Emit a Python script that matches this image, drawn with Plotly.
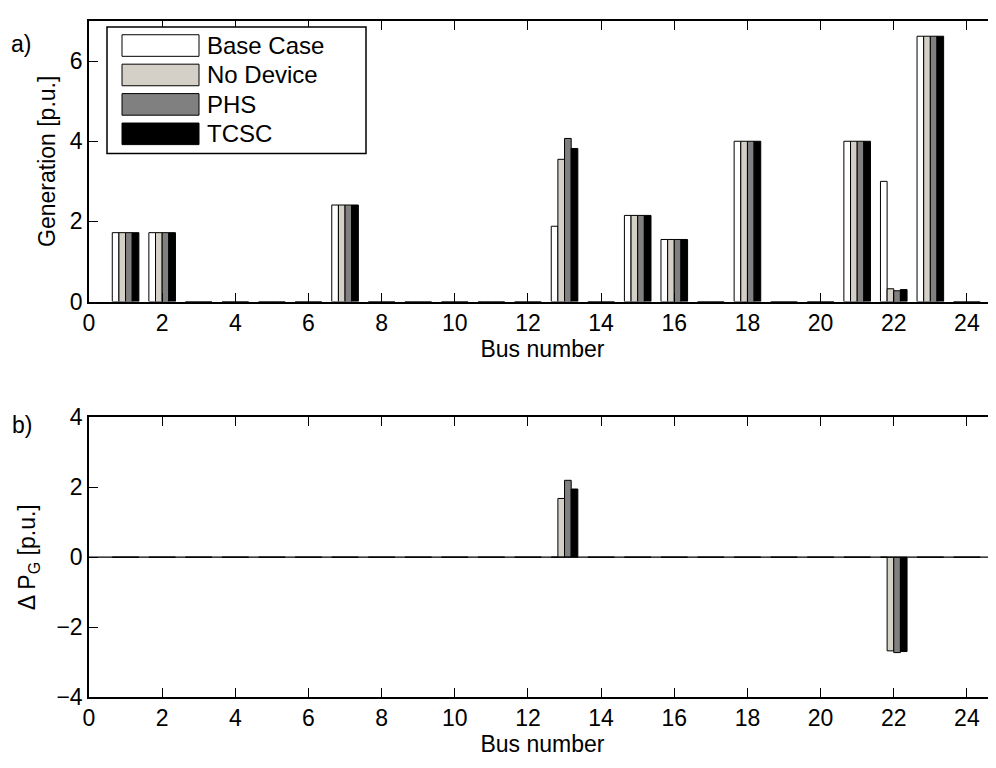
import plotly.graph_objects as go

# ---------------- data ----------------
buses = list(range(1, 25))
series_names = ["Base Case", "No Device", "PHS", "TCSC"]
series_colors = ["#ffffff", "#d4d0c8", "#808080", "#000000"]

#            1     2    3  4  5  6  7     8  9  10 11 12 13    14 15    16    17 18   19 20 21   22    23    24
gen_base  = [1.72, 1.72, 0, 0, 0, 0, 2.41, 0, 0, 0, 0, 0, 1.88, 0, 2.15, 1.55, 0, 4.0, 0, 0, 4.0, 3.00, 6.62, 0]
gen_nodev = [1.72, 1.72, 0, 0, 0, 0, 2.41, 0, 0, 0, 0, 0, 3.55, 0, 2.15, 1.55, 0, 4.0, 0, 0, 4.0, 0.32, 6.62, 0]
gen_phs   = [1.72, 1.72, 0, 0, 0, 0, 2.41, 0, 0, 0, 0, 0, 4.07, 0, 2.15, 1.55, 0, 4.0, 0, 0, 4.0, 0.27, 6.62, 0]
gen_tcsc  = [1.72, 1.72, 0, 0, 0, 0, 2.41, 0, 0, 0, 0, 0, 3.82, 0, 2.15, 1.55, 0, 4.0, 0, 0, 4.0, 0.30, 6.62, 0]

dpg_base  = [0] * 24
dpg_nodev = [0, 0, 0, 0, 0, 0, 0, 0, 0, 0, 0, 0, 1.68, 0, 0, 0, 0, 0, 0, 0, 0, -2.68, 0, 0]
dpg_phs   = [0, 0, 0, 0, 0, 0, 0, 0, 0, 0, 0, 0, 2.20, 0, 0, 0, 0, 0, 0, 0, 0, -2.73, 0, 0]
dpg_tcsc  = [0, 0, 0, 0, 0, 0, 0, 0, 0, 0, 0, 0, 1.95, 0, 0, 0, 0, 0, 0, 0, 0, -2.70, 0, 0]

x_ticks = list(range(0, 25, 2))
y1_ticks = [0, 2, 4, 6]
y2_ticks = [-4, -2, 0, 2, 4]

# ---------------- layout geometry (pixels, screen coords) ----------------
OFF = 8                      # default page body margin
SW, SH = 996, 768            # screen size
W, H = SW - OFF, SH - OFF    # figure size
L, R, T, B = 89 - OFF, 0, 8 - OFF, SH - 697
PW, PH = W - L - R, H - T - B


def px_x(p):
    return (p - OFF - L) / PW


def px_y(p):
    return (H - B - (p - OFF)) / PH


FONT = "Liberation Sans, Arial, Helvetica, sans-serif"
FS = 23

fig = go.Figure()

top_series = [gen_base, gen_nodev, gen_phs, gen_tcsc]
bot_series = [dpg_base, dpg_nodev, dpg_phs, dpg_tcsc]

for name, col, vals in zip(series_names, series_colors, top_series):
    fig.add_trace(go.Bar(x=buses, y=vals, name=name, xaxis="x", yaxis="y",
                         marker=dict(color=col, line=dict(color="#000000", width=1)),
                         showlegend=False, offsetgroup=name))
for name, col, vals in zip(series_names, series_colors, bot_series):
    fig.add_trace(go.Bar(x=buses, y=vals, name=name, xaxis="x2", yaxis="y2",
                         marker=dict(color=col, line=dict(color="#000000", width=1)),
                         showlegend=False, offsetgroup=name))

axis_common = dict(showline=True, linecolor="black", linewidth=1.5,
                   ticks="inside", ticklen=9, tickwidth=1, tickcolor="black",
                   showgrid=False, zeroline=False,
                   tickfont=dict(family=FONT, size=FS, color="black"))

xr = [0, (SW - 89) / 36.58]

fig.update_layout(
    width=W, height=H,
    margin=dict(l=L, r=R, t=T, b=B),
    paper_bgcolor="white", plot_bgcolor="white",
    barmode="group", bargap=0.273, bargroupgap=0,
    font=dict(family=FONT, size=FS, color="black"),
    xaxis=dict(domain=[0, 1], anchor="y", range=xr, tickvals=x_ticks, mirror="ticks",
               title=dict(text="Bus number", standoff=4, font=dict(family=FONT, size=FS)),
               **axis_common),
    yaxis=dict(domain=[px_y(294), 1], anchor="x", range=[0, 7], tickvals=y1_ticks,
               title=dict(text="Generation [p.u.]", standoff=8, font=dict(family=FONT, size=FS)),
               **axis_common),
    xaxis2=dict(domain=[0, 1], anchor="y2", range=xr, tickvals=x_ticks, mirror="ticks",
                title=dict(text="Bus number", standoff=4, font=dict(family=FONT, size=FS)),
                **axis_common),
    yaxis2=dict(domain=[0, px_y(412)], anchor="x2", range=[-4, 4], tickvals=y2_ticks,
                title=dict(text="\u0394 P<sub>G</sub> [p.u.]", standoff=14, font=dict(family=FONT, size=FS)),
                **axis_common),
)

# zero line in lower panel
fig.add_shape(type="line", xref="x2", yref="y2", x0=xr[0], x1=xr[1], y0=0, y1=0,
              line=dict(color="black", width=1.2), layer="above")

# legend box (manual, MATLAB-style wide swatches)
fig.add_shape(type="rect", xref="paper", yref="paper",
              x0=px_x(107), x1=px_x(366), y0=px_y(143), y1=px_y(14),
              line=dict(color="black", width=1.5), fillcolor="white", layer="above")
for i, (name, col) in enumerate(zip(series_names, series_colors)):
    y0 = 22 + 30 * i
    fig.add_shape(type="rect", xref="paper", yref="paper",
                  x0=px_x(122), x1=px_x(199), y0=px_y(y0 + 22), y1=px_y(y0),
                  line=dict(color="black", width=1), fillcolor=col, layer="above")
    fig.add_annotation(xref="paper", yref="paper", x=px_x(205), y=px_y(y0 + 11),
                       text=name, showarrow=False, xanchor="left", yanchor="middle",
                       font=dict(family=FONT, size=FS + 1, color="black"))

# panel labels
fig.add_annotation(xref="paper", yref="paper", x=px_x(9), y=px_y(31), text="a)",
                   showarrow=False, xanchor="left", yanchor="middle",
                   font=dict(family=FONT, size=FS, color="black"))
fig.add_annotation(xref="paper", yref="paper", x=px_x(10), y=px_y(420), text="b)",
                   showarrow=False, xanchor="left", yanchor="middle",
                   font=dict(family=FONT, size=FS, color="black"))

fig.write_html("out.html")
